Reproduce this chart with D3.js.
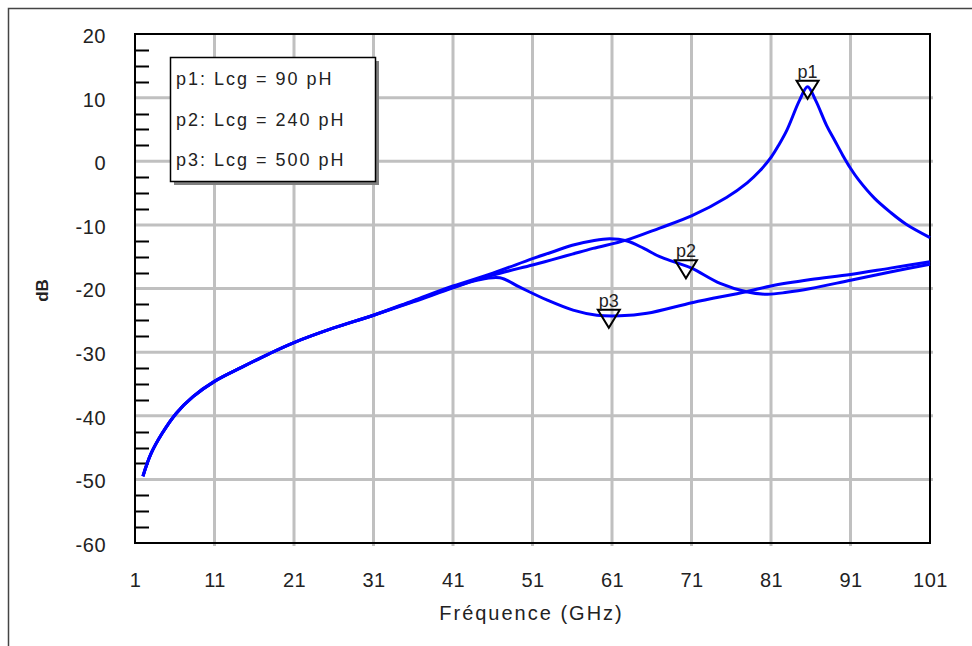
<!DOCTYPE html>
<html>
<head>
<meta charset="utf-8">
<script src="https://cdn.jsdelivr.net/npm/d3@7/dist/d3.min.js"></script>
<style>
  html, body { margin: 0; padding: 0; background: #fff; }
  svg { display: block; }
  text { font-family: "Liberation Sans", Arial, sans-serif; fill: #222; }
</style>
</head>
<body>
<svg id="chart" width="972" height="646"></svg>
<script>
// ---- data ----
const xTickLabels = [1, 11, 21, 31, 41, 51, 61, 71, 81, 91, 101];
const yTickLabels = [20, 10, 0, -10, -20, -30, -40, -50, -60];

const trunkFreq = [2, 3, 4.4, 6.2, 8.3, 11, 14.4, 17.8, 21, 26, 31];
const trunkDb   = [-49.5, -46, -42.8, -39.6, -37, -34.6, -32.4, -30.3, -28.5, -26.2, -24.2];

const p1Freq = [36, 41, 46, 51, 53.4, 56, 58.6, 62.8, 67, 71, 75.4, 78, 79.6, 81, 82, 83, 84.6, 85.6, 86.6, 88, 89, 90, 91, 92, 94, 96, 98, 101];
const p1Db   = [-22.0, -19.8, -17.9, -16.3, -15.5, -14.6, -13.7, -12.4, -10.5, -8.6, -5.7, -3.4, -1.5, 0.6, 2.6, 4.9, 9.6, 11.7, 9.6, 5.6, 3.3, 1.0, -1.1, -2.9, -5.8, -8.0, -9.9, -12.0];

const p2Freq = [36, 41, 46, 51, 53.4, 56, 58.6, 60.7, 62.8, 65, 67, 69, 71, 74.6, 77.9, 80.5, 83, 86, 91, 96, 101];
const p2Db   = [-21.9, -19.6, -17.6, -15.3, -14.3, -13.2, -12.5, -12.2, -12.5, -13.7, -15.0, -15.9, -16.8, -19.2, -20.5, -20.9, -20.6, -20.0, -18.7, -17.4, -16.2];

const p3Freq = [36, 41, 44, 46.9, 49.4, 52.8, 56.1, 59.1, 62, 65.4, 71.2, 77.9, 81, 86, 91, 96, 101];
const p3Db   = [-22.1, -19.9, -18.7, -18.3, -19.8, -21.8, -23.4, -24.2, -24.3, -23.9, -22.2, -20.5, -19.6, -18.6, -17.8, -16.8, -15.8];

const legendLabels = ["p1: Lcg = 90 pH", "p2: Lcg = 240 pH", "p3: Lcg = 500 pH"];
const markerNames = ["p1", "p2", "p3"];
const markerFreq  = [85.6, 70.3, 60.6];
const markerDb    = [11.7, -16.5, -24.3];

const xTitle = "Fréquence (GHz)";
const yTitle = "dB";

// ---- layout ----
const W = 972, H = 646;
const plot = { left: 135, right: 930, top: 34, bottom: 543 };
const svg = d3.select("#chart");

const x = d3.scaleLinear().domain([1, 101]).range([plot.left, plot.right]);
const y = d3.scaleLinear().domain([-60, 20]).range([plot.bottom, plot.top]);

// outer border (only top and left visible)
svg.append("rect")
  .attr("x", 8.5).attr("y", 8.5).attr("width", W + 20).attr("height", H + 20)
  .attr("fill", "none").attr("stroke", "#444").attr("stroke-width", 1.5);

// grid
const grid = svg.append("g");
grid.selectAll("line.v").data(xTickLabels.slice(1, -1)).join("line")
  .attr("x1", d => x(d)).attr("x2", d => x(d))
  .attr("y1", plot.top).attr("y2", plot.bottom + 3)
  .attr("stroke", "#c0c0c0").attr("stroke-width", 3);
grid.selectAll("line.h").data(yTickLabels.slice(1, -1)).join("line")
  .attr("x1", plot.left).attr("x2", plot.right + 3)
  .attr("y1", d => y(d)).attr("y2", d => y(d))
  .attr("stroke", "#c0c0c0").attr("stroke-width", 3);

// minor ticks on y axis (inward)
const minor = d3.range(-60, 20.001, 2.5).filter(v => Math.abs(v % 10) > 0.01);
svg.append("g").selectAll("line").data(minor).join("line")
  .attr("x1", plot.left).attr("x2", plot.left + 14)
  .attr("y1", d => Math.round(y(d)) + 0.5).attr("y2", d => Math.round(y(d)) + 0.5)
  .attr("stroke", "#000").attr("stroke-width", 2);

// frame
svg.append("rect")
  .attr("x", plot.left).attr("y", plot.top)
  .attr("width", plot.right - plot.left).attr("height", plot.bottom - plot.top)
  .attr("fill", "none").attr("stroke", "#000").attr("stroke-width", 2);

// axes labels via d3 axes (tick lines hidden)
const fmt = d => String(d);
const xAxis = svg.append("g").attr("transform", `translate(0,${plot.bottom})`)
  .call(d3.axisBottom(x).tickValues(xTickLabels).tickSize(0).tickPadding(0).tickFormat(fmt));
xAxis.select(".domain").remove();
xAxis.selectAll("text")
  .attr("y", 44).attr("dy", null)
  .style("font-size", "20px").style("letter-spacing", "0.5px")
  .style("font-family", "Liberation Sans, Arial, sans-serif").attr("fill", "#222");

const yAxis = svg.append("g").attr("transform", `translate(${plot.left},0)`)
  .call(d3.axisLeft(y).tickValues(yTickLabels).tickSize(0).tickPadding(0).tickFormat(fmt));
yAxis.select(".domain").remove();
yAxis.selectAll("text")
  .attr("x", -29).attr("dy", "0.42em")
  .style("font-size", "20px").style("letter-spacing", "0.5px")
  .style("font-family", "Liberation Sans, Arial, sans-serif").attr("fill", "#222");

svg.append("text")
  .attr("x", (plot.left + plot.right) / 2 - 1).attr("y", 620)
  .attr("text-anchor", "middle").style("font-size", "20px").style("letter-spacing", "2px")
  .text(xTitle);

svg.append("text")
  .attr("transform", `translate(42,${(plot.top + plot.bottom) / 2 + 2}) rotate(-90)`)
  .attr("text-anchor", "middle").attr("dy", "0.35em")
  .style("font-size", "17px").style("font-weight", "bold").attr("fill", "#000")
  .text(yTitle);

// curves
const series = [
  { f: trunkFreq.concat(p1Freq), v: trunkDb.concat(p1Db) },
  { f: trunkFreq.concat(p2Freq), v: trunkDb.concat(p2Db) },
  { f: trunkFreq.concat(p3Freq), v: trunkDb.concat(p3Db) }
];
const line = d3.line().x(d => x(d[0])).y(d => y(d[1])).curve(d3.curveCatmullRom.alpha(0.5));
svg.append("g").selectAll("path").data(series).join("path")
  .attr("d", s => line(s.f.map((f, i) => [f, s.v[i]])))
  .attr("fill", "none").attr("stroke", "#0000ff").attr("stroke-width", 3)
  .attr("stroke-linejoin", "round");

// markers
const mk = svg.append("g").selectAll("g").data(markerNames).join("g")
  .attr("transform", (d, i) => `translate(${x(markerFreq[i])},${y(markerDb[i])})`);
mk.append("path")
  .attr("d", "M-11,-6 L11,-6 L0,12 Z")
  .attr("fill", "none").attr("stroke", "#000").attr("stroke-width", 2);
mk.append("text")
  .attr("x", 0).attr("y", -9).attr("text-anchor", "middle")
  .style("font-size", "18px").attr("fill", "#222")
  .text(d => d);

// legend
const lg = svg.append("g");
lg.append("rect").attr("x", 174).attr("y", 61).attr("width", 205).attr("height", 124).attr("fill", "#808080");
lg.append("rect").attr("x", 170.5).attr("y", 57.5).attr("width", 205).attr("height", 124)
  .attr("fill", "#fff").attr("stroke", "#000").attr("stroke-width", 1.5);
lg.selectAll("text").data(legendLabels).join("text")
  .attr("x", 176).attr("y", (d, i) => 85 + i * 40.5)
  .style("font-size", "18px").style("letter-spacing", "2px").attr("fill", "#222")
  .text(d => d);
</script>
</body>
</html>
